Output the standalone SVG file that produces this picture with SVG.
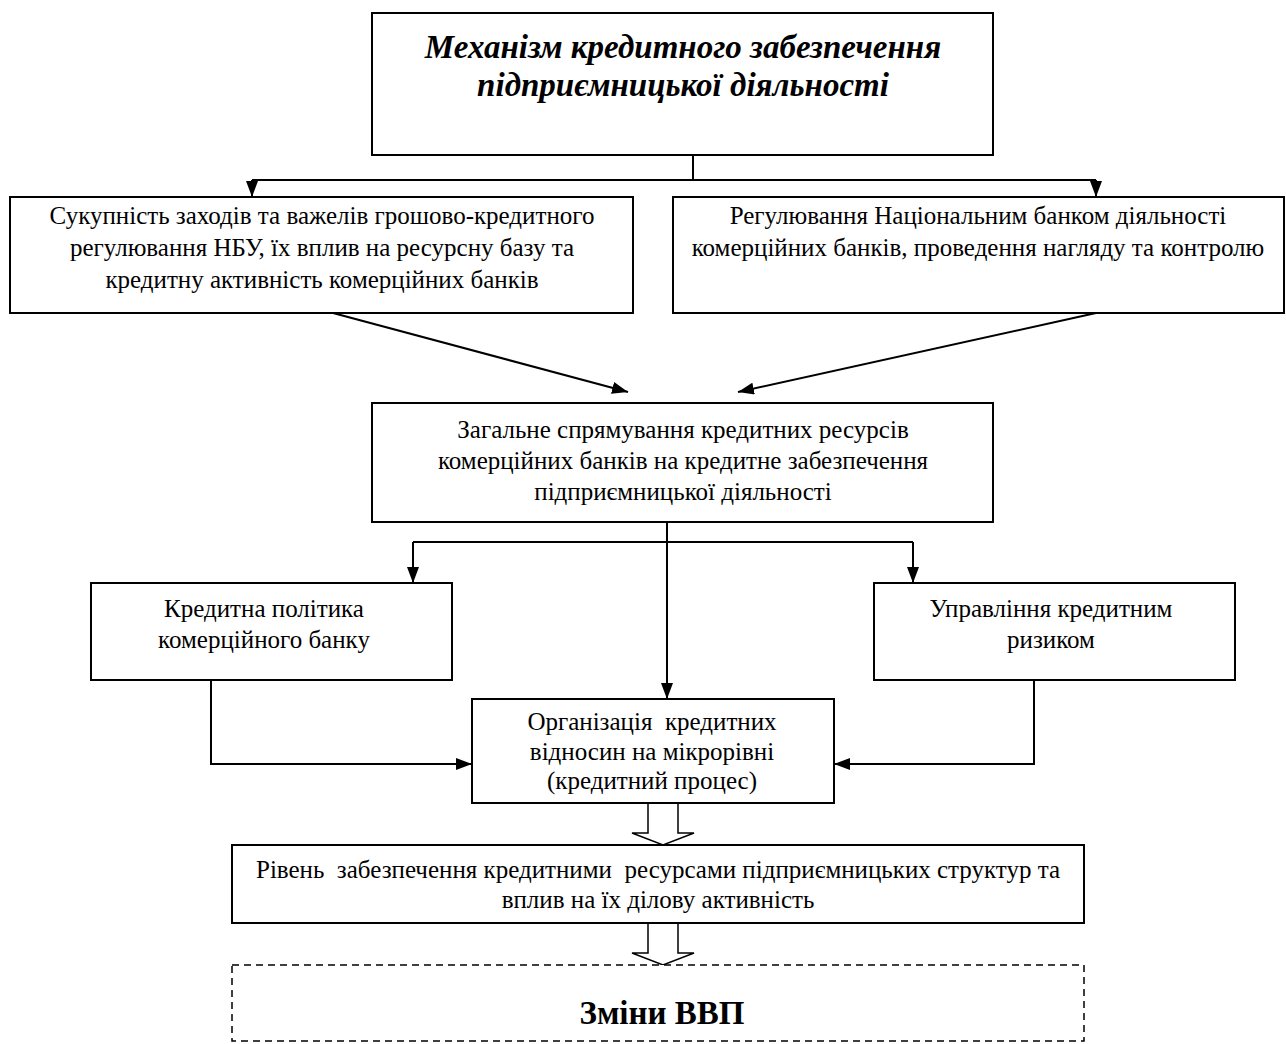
<svg xmlns="http://www.w3.org/2000/svg" width="1286" height="1044" viewBox="0 0 1286 1044">
<style>
.box{fill:#fff;stroke:#000;stroke-width:2}
.dash{fill:#fff;stroke:#000;stroke-width:1.5;stroke-dasharray:7,5}
.t{font-family:"Liberation Serif","Times New Roman",serif;font-size:25px;text-anchor:middle;fill:#000}
.title{font-family:"Liberation Serif","Times New Roman",serif;font-size:33px;font-weight:bold;font-style:italic;text-anchor:middle;fill:#000}
.big{font-family:"Liberation Serif","Times New Roman",serif;font-size:33px;font-weight:bold;text-anchor:middle;fill:#000}
.ln{fill:none;stroke:#000;stroke-width:2}
.hol{fill:#fff;stroke:#000;stroke-width:1.5}
</style>
<defs>
<marker id="ah" viewBox="0 0 16 12" refX="16" refY="6" markerWidth="16" markerHeight="12" markerUnits="userSpaceOnUse" orient="auto">
<path d="M0,0 L16,6 L0,12 Z" fill="#000"/>
</marker>
</defs>
<g id="connectors">
<path class="ln" d="M693,155 V180"/>
<path class="ln" d="M252,180 H1096"/>
<path class="ln" d="M252,180 V197" marker-end="url(#ah)"/>
<path class="ln" d="M1096,180 V197" marker-end="url(#ah)"/>
<path class="ln" d="M333,313 L628,392" marker-end="url(#ah)"/>
<path class="ln" d="M1096,313 L738,392" marker-end="url(#ah)"/>
<path class="ln" d="M667,522 V699" marker-end="url(#ah)"/>
<path class="ln" d="M413,542 H913"/>
<path class="ln" d="M413,542 V583" marker-end="url(#ah)"/>
<path class="ln" d="M913,542 V583" marker-end="url(#ah)"/>
<path class="ln" d="M211,680 V764 H472" marker-end="url(#ah)"/>
<path class="ln" d="M1034,680 V764 H834" marker-end="url(#ah)"/>
<path class="hol" d="M648,803 V833 H632 L663,845 L694,833 H678 V803"/>
<path class="hol" d="M648,923 V953 H632 L663,965 L694,953 H678 V923"/>
</g>
<g id="n1">
<rect class="box" x="372" y="13" width="621" height="142"/>
<text class="title" x="683" y="58">Механізм кредитного забезпечення</text>
<text class="title" x="683" y="96">підприємницької діяльності</text>
</g>
<g id="n2">
<rect class="box" x="10" y="197" width="623" height="116"/>
<text class="t" x="322" y="224">Сукупність заходів та важелів грошово-кредитного</text>
<text class="t" x="322" y="256">регулювання НБУ, їх вплив на ресурсну базу та</text>
<text class="t" x="322" y="288">кредитну активність комерційних банків</text>
</g>
<g id="n3">
<rect class="box" x="673" y="197" width="611" height="116"/>
<text class="t" x="978" y="224">Регулювання Національним банком діяльності</text>
<text class="t" x="978" y="256">комерційних банків, проведення нагляду та контролю</text>
</g>
<g id="n4">
<rect class="box" x="372" y="403" width="621" height="119"/>
<text class="t" x="683" y="438">Загальне спрямування кредитних ресурсів</text>
<text class="t" x="683" y="469">комерційних банків на кредитне забезпечення</text>
<text class="t" x="683" y="500">підприємницької діяльності</text>
</g>
<g id="n5">
<rect class="box" x="91" y="583" width="361" height="97"/>
<text class="t" x="264" y="617">Кредитна політика</text>
<text class="t" x="264" y="648">комерційного банку</text>
</g>
<g id="n6">
<rect class="box" x="874" y="583" width="361" height="97"/>
<text class="t" x="1051" y="617">Управління кредитним</text>
<text class="t" x="1051" y="648">ризиком</text>
</g>
<g id="n7">
<rect class="box" x="472" y="699" width="362" height="104"/>
<text class="t" x="652" y="730" xml:space="preserve">Організація  кредитних</text>
<text class="t" x="652" y="760">відносин на мікрорівні</text>
<text class="t" x="652" y="789">(кредитний процес)</text>
</g>
<g id="n8">
<rect class="box" x="232" y="845" width="852" height="78"/>
<text class="t" x="658" y="878" xml:space="preserve">Рівень  забезпечення кредитними  ресурсами підприємницьких структур та</text>
<text class="t" x="658" y="908">вплив на їх ділову активність</text>
</g>
<g id="n9">
<rect class="dash" x="232" y="965" width="852" height="76"/>
<text class="big" x="662" y="1024">Зміни ВВП</text>
</g>
</svg>
